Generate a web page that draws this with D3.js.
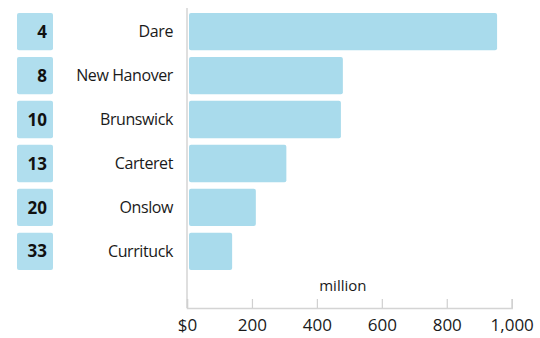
<!DOCTYPE html>
<html>
<head>
<meta charset="utf-8">
<script src="https://cdn.jsdelivr.net/npm/d3@7"></script>
<style>
  html, body { margin: 0; padding: 0; background: #fff; }
  svg { display: block; }
</style>
</head>
<body>
<svg id="chart" width="540" height="338"></svg>
<script>
// Coastal counties, their rank, and value in $ million
const counties = ["Dare", "New Hanover", "Brunswick", "Carteret", "Onslow", "Currituck"];
const ranks = [4, 8, 10, 13, 20, 33];
const values = [955, 480, 474, 306, 212, 139];
const tickValues = [0, 200, 400, 600, 800, 1000];
const tickLabels = ["$0", "200", "400", "600", "800", "1,000"];
const unitLabel = "million";

const svg = d3.select("#chart");
const font = "'Open Sans', 'Noto Sans', sans-serif";
const barColor = "#a9dbec";
const boxColor = "#b0deee";

const x = d3.scaleLinear().domain([0, 1000]).range([187, 511.7]);
const y = d3.scaleBand().domain(counties).range([13, 270]).paddingInner(0.15).paddingOuter(0);

// Axis frame: faint left and bottom lines
const axisY = 308;
svg.append("line")
  .attr("x1", x(0)).attr("x2", x(0))
  .attr("y1", 8).attr("y2", axisY)
  .attr("stroke", "#d4d4d4").attr("stroke-width", 1.5);

const axis = d3.axisBottom(x)
  .tickValues(tickValues)
  .tickFormat((d, i) => tickLabels[i])
  .tickSize(-9);

const gAxis = svg.append("g")
  .attr("transform", `translate(0,${axisY})`)
  .call(axis);
gAxis.select(".domain").attr("stroke", "#d4d4d4").attr("stroke-width", 1.5);
gAxis.selectAll(".tick line").attr("stroke", "#d0d0d0").attr("stroke-width", 1.2);
gAxis.selectAll(".tick text")
  .attr("fill", "#1a1a1a")
  .attr("y", 23)
  .attr("dy", 0)
  .style("font-family", font)
  .style("font-size", "17px");

// Bars
svg.append("g").selectAll("rect")
  .data(values)
  .join("rect")
  .attr("x", x(0) + 2)
  .attr("y", (d, i) => y(counties[i]))
  .attr("width", d => x(d) - x(0) - 2)
  .attr("height", y.bandwidth())
  .attr("rx", 2)
  .attr("fill", barColor);

// Rank boxes
const ranksG = svg.append("g");
ranksG.selectAll("rect")
  .data(ranks)
  .join("rect")
  .attr("x", 17)
  .attr("y", (d, i) => y(counties[i]))
  .attr("width", 36)
  .attr("height", y.bandwidth())
  .attr("rx", 2)
  .attr("fill", boxColor);
ranksG.selectAll("text")
  .data(ranks)
  .join("text")
  .attr("x", 47)
  .attr("y", (d, i) => y(counties[i]) + y.bandwidth() / 2)
  .attr("dy", "0.36em")
  .attr("text-anchor", "end")
  .style("font-family", font)
  .style("font-size", "17px")
  .style("font-weight", "700")
  .attr("fill", "#111")
  .text(d => d);

// County labels
svg.append("g").selectAll("text")
  .data(counties)
  .join("text")
  .attr("x", 173)
  .attr("y", d => y(d) + y.bandwidth() / 2)
  .attr("dy", "0.36em")
  .attr("text-anchor", "end")
  .style("font-family", font)
  .style("font-size", "16px")
  .style("letter-spacing", "-0.4px")
  .attr("fill", "#1a1a1a")
  .text(d => d);

// Unit label
svg.append("text")
  .attr("x", x(480))
  .attr("y", 291)
  .attr("text-anchor", "middle")
  .style("font-family", font)
  .style("font-size", "15px")
  .attr("fill", "#1a1a1a")
  .text(unitLabel);
</script>
</body>
</html>
